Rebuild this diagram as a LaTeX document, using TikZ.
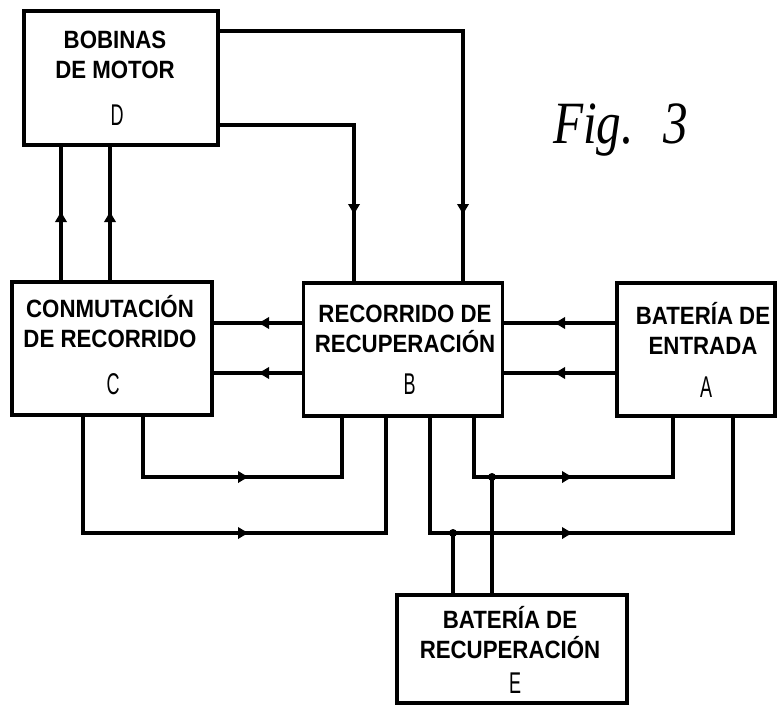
\documentclass[tikz,border=0pt]{standalone}
\usepackage{fontspec}
\setmainfont{Liberation Sans}
\newfontfamily\rotulo[FakeStretch=0.89]{Liberation Sans}
\newfontfamily\letra[FakeStretch=0.6]{Liberation Sans}
\newfontfamily\figfont[FakeStretch=0.82]{Liberation Serif}
\usetikzlibrary{arrows.meta, positioning, calc}

\begin{document}
\begin{tikzpicture}[x=1pt, y=-1pt, >={Latex[length=12pt, width=13pt]}, line width=3.4pt,
    bloque/.style={draw, rectangle, line width=3.8pt, inner sep=0pt},
    texto/.style={align=center, font=\rotulo\bfseries\fontsize{25}{30}\selectfont},
    sigla/.style={font=\letra\fontsize{30}{30}\selectfont},
    union/.style={fill=black}]
    \useasboundingbox (0,0) rectangle (781,704);

    \node[bloque, minimum width=194pt, minimum height=134pt] (D) at (121, 78) {};
    \node[bloque, minimum width=200pt, minimum height=133pt] (C) at (112, 348.5) {};
    \node[bloque, minimum width=199pt, minimum height=133pt] (B) at (403, 349.5) {};
    \node[bloque, minimum width=158pt, minimum height=133pt] (A) at (696, 349.5) {};
    \node[bloque, minimum width=230pt, minimum height=108pt] (E) at (512, 649) {};

    \node[texto] (tD) at (115, 55) {BOBINAS\\DE MOTOR};
    \node[texto] (tC) at (110, 322) {CONMUTACIÓN\\DE RECORRIDO};
    \node[texto] (tB) at (405, 329) {RECORRIDO DE\\RECUPERACIÓN};
    \node[texto] (tA) at (703, 328.5) {BATERÍA DE\\ENTRADA};
    \node[texto] (tE) at (510, 633) {BATERÍA DE\\RECUPERACIÓN};

    \node[sigla] (lD) at (117, 115) {D};
    \node[sigla] (lC) at (113, 384) {C};
    \node[sigla] (lB) at (409.5, 384.5) {B};
    \node[sigla] (lA) at (706, 387.5) {A};
    \node[sigla] (lE) at (515, 683.5) {E};

    \node[anchor=base west, font=\figfont\itshape\fontsize{60}{60}\selectfont] (fig) at (548, 143) {Fig.\hspace{30pt}3};

    % columnas y filas de los cables
    \foreach \n/\x in {d1/61, d2/110, b1/342, b2/386, b3/354, b4/463, b5/430, b6/474,
                       c1/83, c2/143, a1/673, a2/733, e1/453, e2/492,
                       fl/257, fr/553, fb1/250, fb2/574}
        \coordinate (\n) at (\x, 0);
    \foreach \n/\y in {r1/31, r2/125, fD/210, fB/216, h1/323, h2/373, v1/477, v2/533}
        \coordinate (\n) at (0, \y);

    % C -> D
    \draw (C.north -| d1) -- (D.south -| d1);
    \draw (C.north -| d2) -- (D.south -| d2);
    \draw[->] (C.north -| d1) -- (d1 |- fD);
    \draw[->] (C.north -| d2) -- (d2 |- fD);

    % D -> B
    \draw (D.east |- r1) -- (b4 |- r1) -- (B.north -| b4);
    \draw (D.east |- r2) -- (b3 |- r2) -- (B.north -| b3);
    \draw[->] (b4 |- r1) -- (b4 |- fB);
    \draw[->] (b3 |- r2) -- (b3 |- fB);

    % A -> B -> C
    \draw (B.west |- h1) -- (C.east |- h1);
    \draw (B.west |- h2) -- (C.east |- h2);
    \draw[->] (B.west |- h1) -- (fl |- h1);
    \draw[->] (B.west |- h2) -- (fl |- h2);
    \draw (A.west |- h1) -- (B.east |- h1);
    \draw (A.west |- h2) -- (B.east |- h2);
    \draw[->] (A.west |- h1) -- (fr |- h1);
    \draw[->] (A.west |- h2) -- (fr |- h2);

    % lazos inferiores
    \draw (C.south -| c2) -- (c2 |- v1) -- (b1 |- v1) -- (B.south -| b1);
    \draw (C.south -| c1) -- (c1 |- v2) -- (b2 |- v2) -- (B.south -| b2);
    \draw[->] (c2 |- v1) -- (fb1 |- v1);
    \draw[->] (c1 |- v2) -- (fb1 |- v2);
    \draw (B.south -| b6) -- (b6 |- v1) -- (a1 |- v1) -- (A.south -| a1);
    \draw (B.south -| b5) -- (b5 |- v2) -- (a2 |- v2) -- (A.south -| a2);
    \draw[->] (b6 |- v1) -- (fb2 |- v1);
    \draw[->] (b5 |- v2) -- (fb2 |- v2);

    % E
    \draw (E.north -| e1) -- (e1 |- v2);
    \draw (E.north -| e2) -- (e2 |- v1);
    \fill[union] (e1 |- v2) circle (4);
    \fill[union] (e2 |- v1) circle (4);

\end{tikzpicture}
\end{document}
